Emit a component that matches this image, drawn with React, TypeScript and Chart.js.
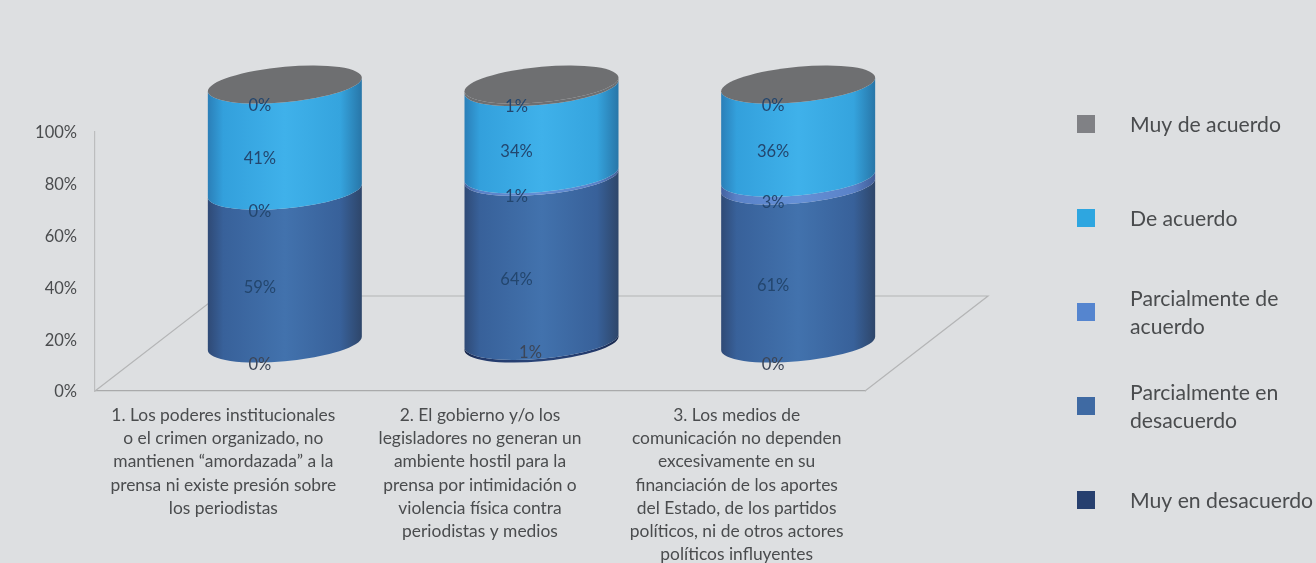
import React, { useEffect, useRef } from "react";
import { Chart, registerables } from "chart.js";

Chart.register(...registerables);

const categories: string[][] = [
  ["1. Los poderes institucionales", "o el crimen organizado, no", "mantienen “amordazada” a la", "prensa ni existe presión sobre", "los periodistas"],
  ["2. El gobierno y/o los", "legisladores no generan un", "ambiente hostil para la", "prensa por intimidación o", "violencia física contra", "periodistas y medios"],
  ["3. Los medios de", "comunicación no dependen", "excesivamente en su", "financiación de los aportes", "del Estado, de los partidos", "políticos, ni de otros actores", "políticos influyentes"],
];

const muyEnDesacuerdo = [0, 1, 0];
const parcialEnDesacuerdo = [59, 64, 61];
const parcialDeAcuerdo = [0, 1, 3];
const deAcuerdo = [41, 34, 36];
const muyDeAcuerdo = [0, 1, 0];

const seriesValues = [muyEnDesacuerdo, parcialEnDesacuerdo, parcialDeAcuerdo, deAcuerdo, muyDeAcuerdo];
const seriesNames = ["Muy en desacuerdo", "Parcialmente en desacuerdo", "Parcialmente de acuerdo", "De acuerdo", "Muy de acuerdo"];
const legendLines = [["Muy en desacuerdo"], ["Parcialmente en", "desacuerdo"], ["Parcialmente de", "acuerdo"], ["De acuerdo"], ["Muy de acuerdo"]];
const swatches = ["#27406f", "#3f6aa3", "#5585cf", "#2ea6e0", "#808185"];
const shades = [
  ["#16264a", "#22396a", "#294478", "#22396a", "#16264a"],
  ["#2f4a76", "#38619a", "#4272ad", "#38619a", "#2e466a"],
  ["#44619f", "#5a82c8", "#6490d6", "#5a82c8", "#415d98"],
  ["#2b7fb8", "#33a0dc", "#3fb1ea", "#35a4de", "#2876a8"],
  ["#6e6f71", "#6e6f71", "#6e6f71", "#6e6f71", "#6e6f71"],
];

const FONT = "Lato, 'Open Sans', sans-serif";
const TEXT = "#4a4c4e";
const SHEAR = 0.088;
const RY = 17.8;
const DEPTH_X = 123;
const DEPTH_Y = 95;
const LABEL_DX = -25;
const bottomLabelNudgeX = [0, 14, 0];
const bottomLabelNudgeY = [0, -10, 0];

const totals = categories.map((_, i) => seriesValues.reduce((s, v) => s + v[i], 0));

const cylinderPlugin = {
  id: "cylinders",
  beforeDatasetsDraw(chart: any) {
    const { ctx, chartArea: a } = chart;
    ctx.save();
    ctx.strokeStyle = "#b4b5b6";
    ctx.lineWidth = 1.2;
    ctx.beginPath();
    ctx.moveTo(a.left, a.bottom);
    ctx.lineTo(a.left + DEPTH_X, a.bottom - DEPTH_Y);
    ctx.lineTo(a.right + DEPTH_X, a.bottom - DEPTH_Y);
    ctx.lineTo(a.right, a.bottom);
    ctx.stroke();
    ctx.restore();

    const dx = DEPTH_X / 2;
    const dy = DEPTH_Y / 2;
    const metas = chart.data.datasets.map((_: any, d: number) => chart.getDatasetMeta(d));
    categories.forEach((_, i) => {
      let cx = 0;
      let rx = 0;
      let topY = 0;
      metas.forEach((meta: any, d: number) => {
        const bar = meta.data[i];
        cx = bar.x + dx;
        rx = bar.width / 2;
        const yb = bar.base - dy;
        const yt = bar.y - dy;
        topY = yt;
        if (seriesValues[d][i] <= 0) return;
        ctx.save();
        ctx.transform(1, -SHEAR, 0, 1, 0, SHEAR * cx);
        const g = ctx.createLinearGradient(cx - rx, 0, cx + rx, 0);
        [0, 0.1, 0.5, 0.86, 1].forEach((p, k) => g.addColorStop(p, shades[d][k]));
        ctx.fillStyle = g;
        ctx.beginPath();
        ctx.moveTo(cx - rx, yb);
        ctx.ellipse(cx, yb, rx, RY, 0, Math.PI, 0, true);
        ctx.lineTo(cx + rx, yt);
        ctx.ellipse(cx, yt, rx, RY, 0, 0, Math.PI, false);
        ctx.closePath();
        ctx.fill();
        ctx.restore();
      });
      ctx.save();
      ctx.transform(1, -SHEAR, 0, 1, 0, SHEAR * cx);
      ctx.fillStyle = shades[4][2];
      ctx.beginPath();
      ctx.ellipse(cx, topY, rx, RY, 0, 0, Math.PI * 2);
      ctx.fill();
      ctx.restore();
    });
  },
  beforeDatasetDraw() {
    return false;
  },
  afterDatasetsDraw(chart: any) {
    const { ctx } = chart;
    const dx = DEPTH_X / 2;
    const dy = DEPTH_Y / 2;
    ctx.save();
    ctx.textAlign = "center";
    ctx.textBaseline = "middle";
    ctx.font = `16.5px ${FONT}`;
    seriesValues.forEach((vals, d) => {
      const meta = chart.getDatasetMeta(d);
      vals.forEach((v, i) => {
        const bar = meta.data[i];
        const x = bar.x + dx + LABEL_DX + (d === 0 ? bottomLabelNudgeX[i] : 0);
        const y = (bar.base + bar.y) / 2 - dy + RY + 3 + (d === 0 ? bottomLabelNudgeY[i] : 0);
        ctx.fillStyle = d === 0 ? "#3c4658" : "#23466e";
        ctx.fillText(`${v}%`, x, y);
      });
    });

    // Legend, top entry first
    const order = [4, 3, 2, 1, 0];
    ctx.textAlign = "left";
    ctx.font = `21.2px ${FONT}`;
    order.forEach((d, k) => {
      const yc = 124 + k * 94;
      ctx.fillStyle = swatches[d];
      ctx.fillRect(1077, yc - 9, 18, 18);
      ctx.fillStyle = TEXT;
      const lines = legendLines[d];
      lines.forEach((line, l) => {
        ctx.fillText(line, 1130, yc + (l - (lines.length - 1) / 2) * 28 + 1);
      });
    });
    ctx.restore();
  },
};

export default function App() {
  const ref = useRef<HTMLCanvasElement>(null);

  useEffect(() => {
    document.body.style.margin = "0";
    document.body.style.background = "#dddfe1";
    const chart = new Chart(ref.current as HTMLCanvasElement, {
      type: "bar",
      data: {
        labels: categories as any,
        datasets: seriesValues.map((vals, d) => ({
          label: seriesNames[d],
          data: vals.map((v, i) => (v * 100) / totals[i]),
          backgroundColor: swatches[d],
          barPercentage: 0.6,
          categoryPercentage: 1,
        })),
      },
      options: {
        responsive: false,
        animation: false,
        layout: { padding: { top: 132, right: 451, left: 0, bottom: 0 } },
        plugins: { legend: { display: false }, tooltip: { enabled: false } },
        scales: {
          x: {
            stacked: true,
            grid: { display: false },
            border: { display: true, color: "#a9aaab", width: 1.2 },
            ticks: {
              autoSkip: false,
              maxRotation: 0,
              minRotation: 0,
              padding: 5,
              color: TEXT,
              font: { family: FONT, size: 17.4, lineHeight: 1.33 } as any,
            },
            afterFit: (s: any) => {
              s.height = 172;
            },
          },
          y: {
            stacked: true,
            min: 0,
            max: 100,
            grid: { display: false },
            border: { display: true, color: "#bcbdbe", width: 1.2 },
            ticks: {
              stepSize: 20,
              padding: 10,
              labelOffset: 1,
              color: TEXT,
              font: { family: FONT, size: 16.5 },
              callback: (v: any) => `${v}%`,
            },
            afterFit: (s: any) => {
              s.width = 95;
            },
          },
        },
      },
      plugins: [cylinderPlugin as any],
    });
    return () => chart.destroy();
  }, []);

  return <canvas ref={ref} width={1316} height={563} style={{ display: "block" }} />;
}
